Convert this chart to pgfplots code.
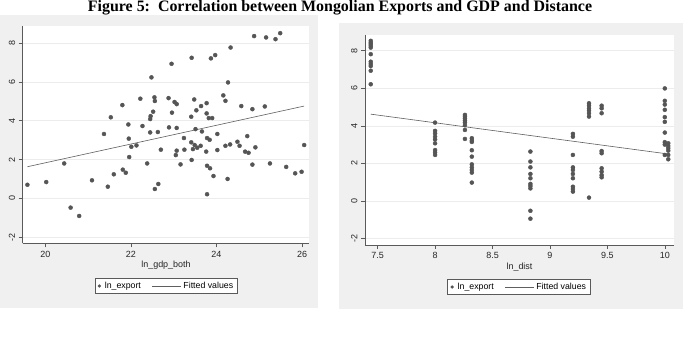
\documentclass[border=0pt]{standalone}
\usepackage{fontspec}
\setmainfont{Liberation Sans}
\newfontfamily\titlefont{Liberation Serif}
\usepackage{pgfplots}
\pgfplotsset{compat=1.18}
\usepackage{pgfplotstable}
\definecolor{panel}{RGB}{240,240,240}
\definecolor{dotc}{RGB}{85,85,85}
\definecolor{fitc}{RGB}{95,95,95}
\definecolor{axc}{RGB}{90,90,90}
\definecolor{gridc}{RGB}{236,236,236}

\pgfplotstableread{
x y
19.58 0.70
20.02 0.84
20.44 1.80
20.59 -0.48
20.79 -0.91
21.09 0.93
21.37 3.32
21.46 0.60
21.53 4.18
21.60 1.24
21.80 4.81
21.81 1.48
21.88 1.32
21.94 3.81
21.95 3.08
21.96 2.13
22.01 2.66
22.13 2.73
22.22 5.14
22.27 3.73
22.38 1.80
22.45 4.09
22.46 4.24
22.45 3.40
22.48 6.24
22.52 4.47
22.55 5.21
22.56 5.02
22.56 0.48
22.63 3.42
22.64 0.74
22.70 2.51
22.88 5.17
22.89 3.66
22.95 6.94
22.96 4.42
23.02 4.97
23.07 4.86
23.07 3.63
23.07 2.46
23.05 2.23
23.16 1.75
23.24 3.11
23.25 2.51
23.42 7.25
23.41 4.21
23.41 2.89
23.42 1.98
23.45 2.54
23.48 5.10
23.49 2.75
23.51 3.57
23.53 4.54
23.55 2.61
23.63 2.71
23.64 4.76
23.66 3.45
23.77 4.91
23.77 4.38
23.76 2.41
23.78 3.11
23.78 1.68
23.78 0.21
23.82 4.14
23.84 3.02
23.85 1.55
23.87 7.22
23.90 4.14
23.93 1.15
23.97 7.39
24.02 3.32
24.02 2.49
24.16 5.31
24.21 5.03
24.21 2.71
24.26 1.00
24.27 5.98
24.32 2.78
24.33 7.78
24.49 2.92
24.54 2.71
24.58 4.76
24.67 2.41
24.72 3.21
24.75 2.35
24.84 1.74
24.84 4.60
24.88 8.37
24.91 2.63
25.13 4.74
25.16 8.30
25.25 1.80
25.38 8.21
25.49 8.52
25.63 1.62
25.84 1.29
25.99 1.37
26.05 2.75
}\gdpdata

\pgfplotstableread{
x y
19.58 1.63
26.05 4.76
}\gdpfit

\pgfplotstableread{
x y
7.44 8.52
7.44 8.42
7.44 8.34
7.44 8.25
7.44 8.16
7.44 7.81
7.44 7.41
7.44 7.29
7.44 7.18
7.44 6.93
7.44 6.21
8.00 4.17
8.00 3.73
8.00 3.60
8.00 3.42
8.00 3.28
8.00 3.07
8.00 2.71
8.00 2.59
8.00 2.45
8.26 4.58
8.26 4.49
8.26 4.39
8.26 4.28
8.26 4.17
8.26 4.03
8.26 3.78
8.26 3.30
8.32 3.34
8.32 3.21
8.32 3.14
8.32 2.70
8.32 2.36
8.32 1.95
8.32 1.79
8.32 1.65
8.32 1.51
8.32 0.98
8.83 2.63
8.83 2.10
8.83 1.79
8.83 1.44
8.83 1.21
8.83 0.91
8.83 0.80
8.83 0.67
8.83 -0.52
8.83 -0.94
9.20 3.57
9.20 3.42
9.20 2.45
9.20 1.79
9.20 1.65
9.20 1.44
9.20 1.21
9.20 0.76
9.20 0.64
9.20 0.50
9.34 5.20
9.34 5.07
9.34 4.93
9.34 4.81
9.34 4.67
9.34 4.49
9.34 0.18
9.45 5.07
9.45 4.93
9.45 4.67
9.45 2.66
9.45 2.54
9.45 1.74
9.45 1.56
9.45 1.38
9.45 1.26
10.00 5.99
10.00 5.33
10.00 5.13
10.00 4.85
10.00 4.46
10.00 4.21
10.00 3.64
10.00 3.13
10.00 3.00
10.00 2.45
10.03 3.07
10.03 2.93
10.03 2.81
10.03 2.68
10.03 2.45
10.03 2.22
}\distdata

\pgfplotstableread{
x y
7.44 4.62
10.03 2.50
}\distfit

\pgfplotsset{
  statastyle/.style={
    scale only axis,
    anchor=south west,
    axis lines*=left,
    axis line style={axc, line width=0.6bp},
    tick style={axc, line width=0.6bp},
    tick align=outside,
    major tick length=4bp,
    axis background/.style={fill=white},
    ymajorgrids,
    grid style={gridc, line width=0.6bp},
    ytick={-2,0,2,4,6,8},
    /pgf/number format/assume math mode=true,
    ticklabel style={font=\fontsize{9}{10}\selectfont, text=black!85},
    yticklabel style={rotate=90, anchor=south},
    label style={font=\fontsize{9}{10}\selectfont, text=black!85},
    xlabel style={yshift=3bp},
    legend columns=2,
    legend style={draw=axc, line width=0.6bp, fill=white, font=\fontsize{8.8}{10}\selectfont,
      inner xsep=2bp, inner ysep=1.5bp, anchor=center,
      /tikz/every even column/.append style={column sep=9bp}},
    legend cell align=left,
  },
}

\begin{document}
\begin{tikzpicture}
\useasboundingbox (0,0) rectangle (683bp,343bp);
\fill[panel] (0bp,343bp-15bp) rectangle (318bp,343bp-308bp);
\fill[panel] (339bp,343bp-23bp) rectangle (683bp,343bp-309bp);
\node[anchor=base, font=\titlefont\bfseries\fontsize{16}{18}\selectfont] at (340bp,343bp-11.5bp)
  {Figure 5:\ \ Correlation between Mongolian Exports and GDP and Distance};

\begin{axis}[statastyle,
  at={(22.7bp,99.7bp)}, width=286.6bp, height=217.3bp,
  xmin=19.47, xmax=26.17, ymin=-2.32, ymax=8.89,
  xtick={20,22,24,26},
  xlabel={ln\_gdp\_both},
  legend style={at={(0.5,-0.1965)}},
]
\addplot[only marks, mark=*, mark size=2bp, dotc, mark options={draw=dotc, fill=dotc},
  legend image code/.code={\path[draw=none,fill=none] (0,-1bp) rectangle (6bp,1bp); \fill[dotc] (2.5bp,0) circle (1.3bp);}] table[x=x,y=y] {\gdpdata};
\addlegendentry{ln\_export}
\addplot[fitc, line width=0.6bp, no marks,
  legend image code/.code={\draw[fitc, line width=0.6bp] (0,0) -- (29bp,0);}] table[x=x,y=y] {\gdpfit};
\addlegendentry{Fitted values}
\end{axis}

\begin{axis}[statastyle,
  at={(365bp,98bp)}, width=309bp, height=210bp,
  xmin=7.39, xmax=10.08, ymin=-2.34, ymax=8.83,
  xtick={7.5,8,8.5,9,9.5,10},
  xlabel={ln\_dist},
  legend style={at={(0.498,-0.2)}},
]
\addplot[only marks, mark=*, mark size=2bp, dotc, mark options={draw=dotc, fill=dotc},
  legend image code/.code={\path[draw=none,fill=none] (0,-1bp) rectangle (6bp,1bp); \fill[dotc] (2.5bp,0) circle (1.3bp);}] table[x=x,y=y] {\distdata};
\addlegendentry{ln\_export}
\addplot[fitc, line width=0.6bp, no marks,
  legend image code/.code={\draw[fitc, line width=0.6bp] (0,0) -- (29bp,0);}] table[x=x,y=y] {\distfit};
\addlegendentry{Fitted values}
\end{axis}
\end{tikzpicture}
\end{document}
